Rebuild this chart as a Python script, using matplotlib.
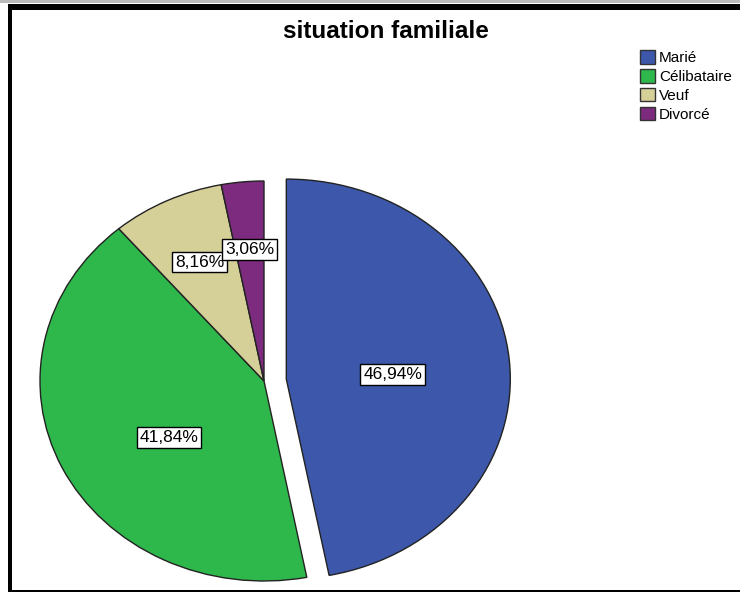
import numpy as np
import matplotlib
matplotlib.use("Agg")
import matplotlib.pyplot as plt
from matplotlib.patches import Rectangle, Patch

plt.rcParams['font.family'] = ['Liberation Sans', 'DejaVu Sans']

categories = ["Marié", "Célibataire", "Veuf", "Divorcé"]
counts = [46, 41, 8, 3]
colors = ["#3D58AB", "#2EB84B", "#D5CF98", "#7C2B7F"]
explode = [0.1, 0, 0, 0]
label_dist = [0.475, 0.51, 0.66, 0.66]
label_angle_shift = [-2.8, 8.1, 0.0, 0.0]

W, H = 740, 594
fig = plt.figure(figsize=(W / 100, H / 100), dpi=100)

# pie centre / radii in pixels
cx, cy, rx, ry = 264, 381, 224, 200
xl, xr = -1.1, 1.3
yb, yt = -1.05, 1.05
left = (cx + xl * rx) / W
width = (xr - xl) * rx / W
bottom = (H - (cy - yb * ry)) / H
height = (yt - yb) * ry / H
ax = fig.add_axes([left, bottom, width, height])

wedges, texts, autotexts = ax.pie(
    counts, colors=colors, explode=explode, startangle=90, counterclock=False,
    autopct=lambda p: f"{p:.2f}%".replace('.', ','),
    wedgeprops=dict(edgecolor="#222222", linewidth=1.0),
    textprops=dict(fontsize=12.5, color="black"))
ax.set_aspect('auto')
ax.set_xlim(xl, xr)
ax.set_ylim(yb, yt)
ax.axis('off')

for w, t, d, s, e in zip(wedges, autotexts, label_dist, label_angle_shift, explode):
    mid = np.deg2rad((w.theta1 + w.theta2) / 2)
    ang = np.deg2rad((w.theta1 + w.theta2) / 2 + s)
    t.set_position((e * np.cos(mid) + d * np.cos(ang), e * np.sin(mid) + d * np.sin(ang)))
    t.set_bbox(dict(boxstyle="square,pad=0.16", facecolor="white", edgecolor="black", linewidth=1))
    t.set_zorder(5)

fig.text(386 / W, 1 - 32 / H, "situation familiale", ha="center", va="center",
         fontsize=17.5, fontweight="bold")

handles = [Patch(facecolor=c, edgecolor="#333333", linewidth=1) for c in colors]
fig.legend(handles, categories, loc="upper left", bbox_to_anchor=(640 / W, 1 - 50 / H),
           frameon=False, fontsize=11, handlelength=1.0, handleheight=1.0,
           handletextpad=0.25, labelspacing=0.25, borderpad=0, borderaxespad=0)

# frame lines
fig.add_artist(Rectangle((0, 1 - 3 / H), 1, 3 / H, transform=fig.transFigure,
                         facecolor="#bbbbbb", edgecolor="none"))
fig.add_artist(Rectangle((8 / W, 1 - 10 / H), 1, 6 / H, transform=fig.transFigure,
                         facecolor="black", edgecolor="none"))
fig.add_artist(Rectangle((8 / W, 1 - 592 / H), 4 / W, 584 / H, transform=fig.transFigure,
                         facecolor="black", edgecolor="none"))
fig.add_artist(Rectangle((8 / W, 1 - 592 / H), 1, 2 / H, transform=fig.transFigure,
                         facecolor="black", edgecolor="none"))

fig.savefig("out.png", dpi=100)
